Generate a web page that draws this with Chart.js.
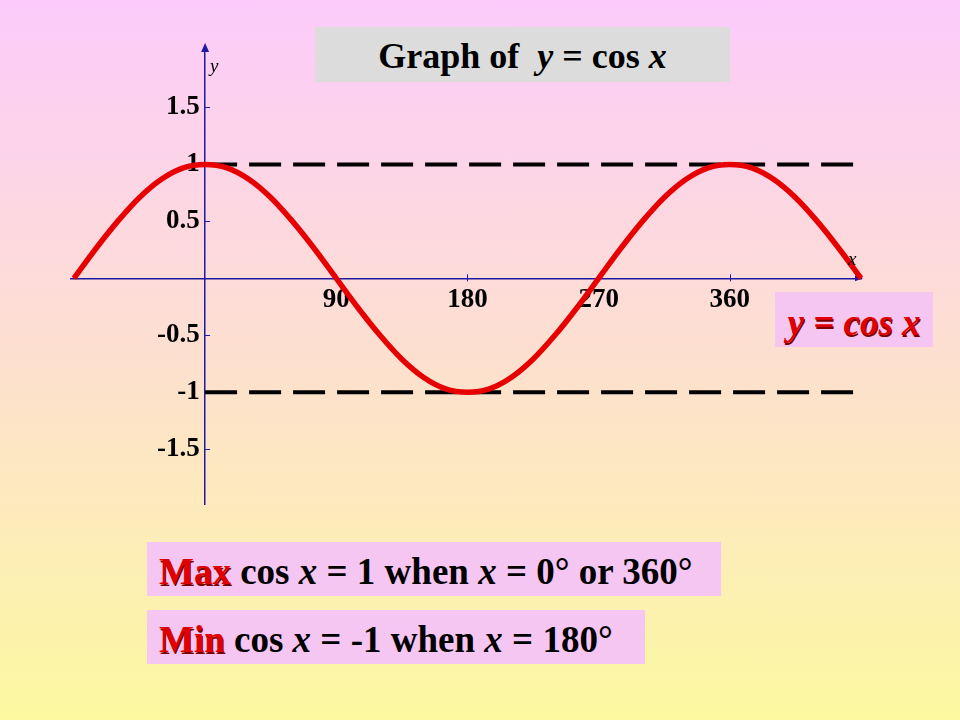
<!DOCTYPE html>
<html>
<head>
<meta charset="utf-8">
<script src="https://cdn.jsdelivr.net/npm/chart.js@4/dist/chart.umd.min.js"></script>
<style>
  html, body { margin: 0; padding: 0; }
  body {
    width: 960px; height: 720px; position: relative; overflow: hidden;
    background: linear-gradient(to bottom, #fccbfb 0%, #fde0cf 50%, #fcf9a0 100%);
    font-family: "Liberation Serif", "Times New Roman", serif;
  }
  #wrap { position: absolute; left: 0; top: 0; width: 960px; height: 720px; }
  .box { position: absolute; font-weight: bold; white-space: nowrap; box-sizing: border-box; }
  .title { left: 315px; top: 27px; width: 415px; height: 55px; background: #dcdcdc;
           font-size: 36px; line-height: 58px; text-align: center; color: #000; }
  .legend { left: 775px; top: 292px; width: 158px; height: 55px; background: #f6c6f2;
            font-size: 37px; line-height: 62px; text-align: center; color: #e00000;
            font-style: italic; text-shadow: 1px 2px 0 #7a0000; }
  .note { left: 147px; height: 54px; background: #f6c6f2; font-size: 37px; line-height: 60px;
          padding-left: 12px; color: #000; }
  .red { color: #e00000; text-shadow: 1px 2px 0 #7a0000; }
  i { font-style: italic; }
  .axlab { position: absolute; font-style: italic; font-size: 19px; color: #000; }
</style>
</head>
<body>
<div id="wrap"><canvas id="chart" width="960" height="720"></canvas></div>
<div class="box title">Graph of&nbsp; <i>y</i> = cos <i>x</i></div>
<div class="box legend">y = cos x</div>
<div class="box note" style="top:542px;width:574px;"><span class="red">Max</span> cos <i>x</i> = 1 when <i>x</i> = 0° or 360°</div>
<div class="box note" style="top:610px;width:498px;"><span class="red">Min</span> cos <i>x</i> = -1 when <i>x</i> = 180°</div>
<div class="axlab" style="left:210px;top:55px;">y</div>
<div class="axlab" style="left:848px;top:248px;">x</div>
<script>
// angle in degrees and the curve height
const angles = [-90, -75, -60, -45, -30, -15, 0, 15, 30, 45, 60, 75, 90, 105, 120, 135, 150, 165, 180,
                195, 210, 225, 240, 255, 270, 285, 300, 315, 330, 345, 360, 375, 390, 405, 420, 435, 450];
const cosValues = [0, 0.26, 0.5, 0.71, 0.87, 0.97, 1, 0.97, 0.87, 0.71, 0.5, 0.26, 0, -0.26, -0.5, -0.71, -0.87, -0.97, -1,
                   -0.97, -0.87, -0.71, -0.5, -0.26, 0, 0.26, 0.5, 0.71, 0.87, 0.97, 1, 0.97, 0.87, 0.71, 0.5, 0.26, 0];

// dashed max / min guide lines
const guideX = [0, 447];
const maxLevel = 1;
const minLevel = -1;

// tick labels
const xTicks = [90, 180, 270, 360];
const yTicks = [-1.5, -1, -0.5, 0.5, 1, 1.5];

const axisColor = '#1f1aa0';

// small tick marks and arrow heads on the axes
const axisDecor = {
    id: 'axisDecor',
    beforeDatasetsDraw(chart) {
        const { ctx, scales: { x, y }, chartArea } = chart;
        const x0 = x.getPixelForValue(0);
        const y0 = y.getPixelForValue(0);
        ctx.save();
        ctx.strokeStyle = axisColor;
        ctx.fillStyle = axisColor;
        ctx.lineWidth = 1;
        yTicks.forEach(v => {
            const py = Math.round(y.getPixelForValue(v)) + 0.5;
            ctx.beginPath(); ctx.moveTo(x0, py); ctx.lineTo(x0 + 5, py); ctx.stroke();
        });
        xTicks.forEach(v => {
            const px = Math.round(x.getPixelForValue(v)) + 0.5;
            ctx.beginPath(); ctx.moveTo(px, y0 - 4); ctx.lineTo(px, y0 + 3); ctx.stroke();
        });
        // arrow on y axis
        ctx.beginPath();
        ctx.moveTo(x0, chartArea.top - 4);
        ctx.lineTo(x0 - 4, chartArea.top + 5);
        ctx.lineTo(x0 + 4, chartArea.top + 5);
        ctx.closePath(); ctx.fill();
        // arrow on x axis
        ctx.beginPath();
        ctx.moveTo(chartArea.right + 2, y0);
        ctx.lineTo(chartArea.right - 6, y0 - 3);
        ctx.lineTo(chartArea.right - 6, y0 + 3);
        ctx.closePath(); ctx.fill();
        ctx.restore();
    }
};

const tickFont = { family: '"Liberation Serif", "Times New Roman", serif', size: 27, weight: 'bold' };

new Chart(document.getElementById('chart'), {
    type: 'line',
    data: {
        datasets: [
            {
                data: angles.map((a, i) => ({ x: a, y: cosValues[i] })),
                borderColor: '#e60000',
                borderWidth: 5.5,
                pointRadius: 0,
                cubicInterpolationMode: 'monotone',
                clip: false
            },
            {
                data: guideX.map(a => ({ x: a, y: maxLevel })),
                borderColor: '#000',
                borderWidth: 4,
                borderDash: [32, 12],
                pointRadius: 0
            },
            {
                data: guideX.map(a => ({ x: a, y: minLevel })),
                borderColor: '#000',
                borderWidth: 4,
                borderDash: [32, 12],
                pointRadius: 0
            }
        ]
    },
    options: {
        responsive: false,
        animation: false,
        layout: { padding: { left: 71, right: 99, top: 47, bottom: 216 } },
        plugins: { legend: { display: false }, tooltip: { enabled: false } },
        scales: {
            x: {
                type: 'linear',
                min: -92, max: 450,
                position: { y: 0 },
                afterBuildTicks: s => { s.ticks = xTicks.map(v => ({ value: v })); },
                grid: { display: false },
                border: { color: axisColor, width: 1.5 },
                ticks: { color: '#000', font: tickFont, padding: -3, maxRotation: 0,
                         callback: v => String(v) }
            },
            y: {
                type: 'linear',
                min: -1.98, max: 2.03,
                position: { x: 0 },
                afterBuildTicks: s => { s.ticks = yTicks.map(v => ({ value: v })); },
                grid: { display: false, drawTicks: false },
                border: { color: axisColor, width: 1.5 },
                // centred axis ignores padding, so a thin space keeps labels off the line
                ticks: { color: '#000', font: tickFont,
                         callback: v => String(v) + '\u2009' }
            }
        }
    },
    plugins: [axisDecor]
});
</script>
</body>
</html>
